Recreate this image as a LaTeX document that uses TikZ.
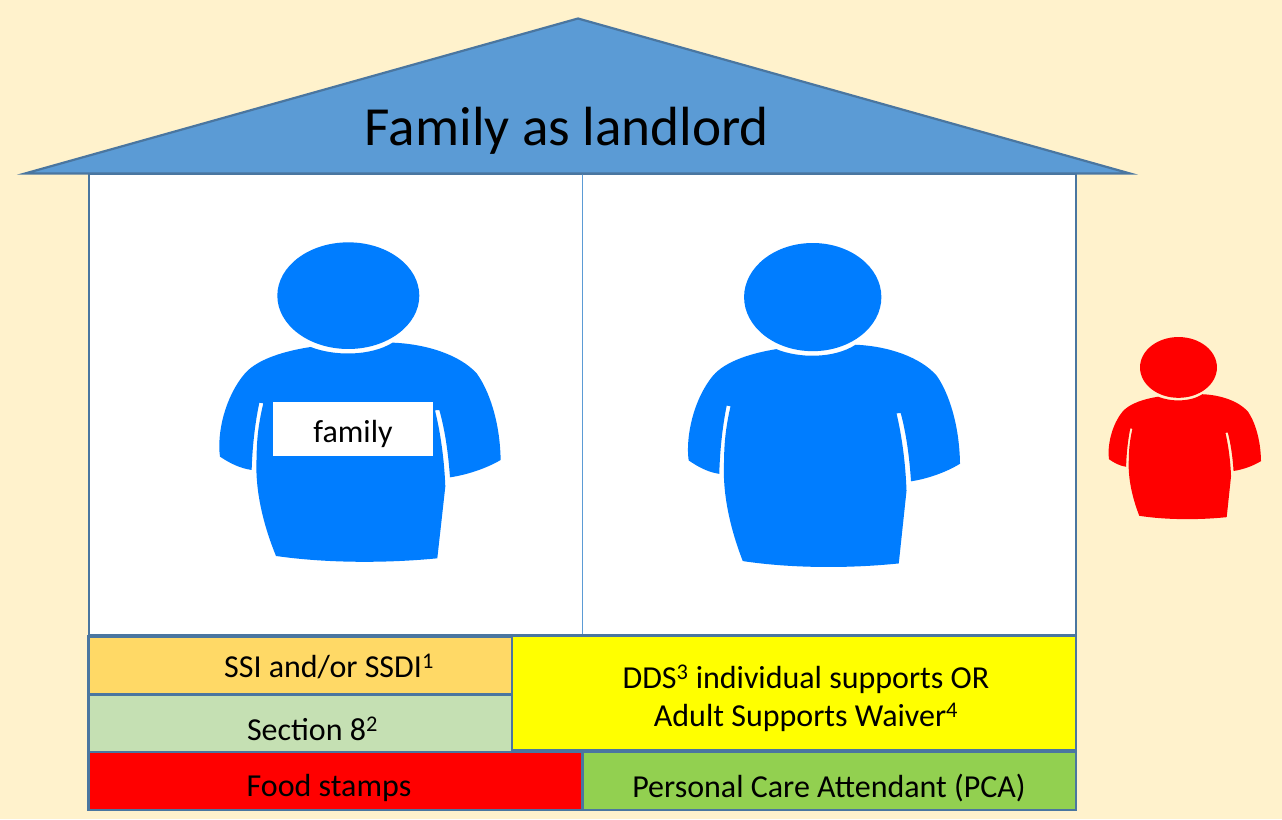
\documentclass[tikz,border=0pt]{standalone}
\usepackage{fontspec}
\setmainfont{Carlito}
\definecolor{bgc}{HTML}{FFF2CC}
\definecolor{roofc}{HTML}{5B9BD5}
\definecolor{edgec}{HTML}{4A76A0}
\definecolor{personb}{HTML}{007DFF}
\definecolor{orangec}{HTML}{FFD966}
\definecolor{paleg}{HTML}{C5E0B3}
\definecolor{pcag}{HTML}{92D050}
\definecolor{pureyellow}{HTML}{FFFF00}
\definecolor{purered}{HTML}{FF0000}
\tikzset{
  x=1pt,y=-1pt,
  panel/.style={draw=edgec,line width=2.8pt,outer sep=0pt,minimum width=#1,inner sep=0pt,anchor=north west},
  paneltext/.style={font=\fontsize{32}{38}\selectfont,text=black,inner sep=0pt,align=center},
  personpic/.pic={
    \path[pic actions] (445,197) ellipse [x radius=213,y radius=160];
    \path[pic actions] (332,351)
      .. controls (400,378) and (510,380) .. (578,338)
      .. controls (680,342) and (780,375) .. (830,430)
      .. controls (865,478) and (900,570) .. (902,690)
      .. controls (860,715) and (800,735) .. (750,742)
      .. controls (745,670) and (735,600) .. (718,540)
      -- (705,541)
      .. controls (722,610) and (733,690) .. (736,770)
      -- (712,985)
      .. controls (560,1000) and (380,1000) .. (228,978)
      .. controls (180,860) and (165,760) .. (170,680)
      .. controls (170,620) and (178,570) .. (190,520)
      -- (178,518)
      .. controls (165,580) and (157,650) .. (155,720)
      .. controls (120,715) and (90,700) .. (60,680)
      .. controls (50,610) and (75,500) .. (135,430)
      .. controls (175,385) and (260,362) .. (332,351) -- cycle;
  }
}
\begin{document}
\begin{tikzpicture}
\useasboundingbox (0,0) rectangle (1282,819);
\fill[bgc] (0,0) rectangle (1282,819);
% house wall
\node[draw=edgec,fill=white,line width=2.8pt,outer sep=0pt,minimum width=987pt,minimum height=461pt,inner sep=0pt,anchor=north west] (wall) at (89,174) {};
\coordinate (divtop) at (582.5,174);
\coordinate (divbot) at (582.5,635);
\draw[roofc,line width=0.9pt] (divtop) -- (divbot);
% roof
\coordinate (roofapex) at (578,18.5);
\coordinate (roofl) at (25,173.5);
\coordinate (roofr) at (1130,173.5);
\draw[fill=roofc,draw=edgec,line width=2.2pt,line join=miter] (roofapex) -- (roofr) -- (roofl) -- cycle;
\node[font=\fontsize{55.2}{60}\selectfont,text=black,inner sep=0pt] (title) at (567,131) {Family as landlord};
% people
\pic[fill=personb,xscale=0.3333,yscale=0.3333] (famperson) at (200,230) {personpic};
\pic[fill=personb,xscale=0.3223,yscale=0.338] (tenant) at (669.3,230.5) {personpic};
\pic[fill=purered,xscale=0.1806,yscale=0.19] (outside) at (1098.1,330) {personpic};
\node[fill=white,minimum width=160pt,minimum height=54pt,inner sep=0pt,outer sep=0pt,anchor=north west] (family) at (273,402) {};
\node[paneltext] (familyt) at (353,434) {family};
% funding panels
\node[panel=424pt,minimum height=58pt,fill=orangec] (ssi) at (88.5,636.5) {};
\node[paneltext] (ssit) at (329,666) {SSI and/or SSDI\textsuperscript{1}};
\node[panel=424pt,minimum height=58pt,fill=paleg] (sec) at (88.5,694.5) {};
\node[paneltext] (sect) at (312.5,729) {Section 8\textsuperscript{2}};
\node[panel=564pt,minimum height=115pt,fill=pureyellow] (dds) at (512,635.5) {};
\node[paneltext] (ddst) at (806,698) {DDS\textsuperscript{3} individual supports OR\\Adult Supports Waiver\textsuperscript{4}};
\node[panel=494pt,minimum height=58pt,fill=purered] (food) at (88.5,752) {};
\node[paneltext] (foodt) at (329,788) {Food stamps};
\node[panel=493.5pt,minimum height=58pt,fill=pcag] (pca) at (582.5,752) {};
\node[paneltext] (pcat) at (829,788) {Personal Care Attendant (PCA)};
\end{tikzpicture}
\end{document}
